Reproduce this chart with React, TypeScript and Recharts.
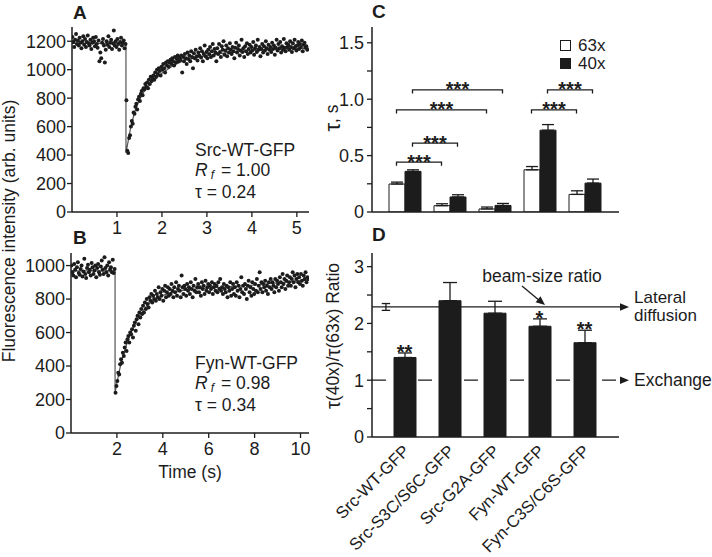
import React from 'react';
import {
  ComposedChart,
  Scatter,
  Line,
  Bar,
  XAxis,
  YAxis,
  ErrorBar,
  ReferenceLine,
  Legend,
} from 'recharts';

const FONT = '"Liberation Sans", Arial, Helvetica, sans-serif';
const INK = '#1c1c1c';

// ---------------- Panel A : Src-WT-GFP FRAP trace ----------------
const srcName = 'Src-WT-GFP';
const srcRf = 1.0;
const srcTau = 0.24;
const srcTimeStart = 0.01;
const srcTimeStep = 0.02;
const srcIntensity = [
  1230, 1195, 1160, 1210, 1250, 1180, 1205, 1170, 1225, 1190,
  1150, 1200, 1235, 1175, 1215, 1160, 1195, 1240, 1185, 1170,
  1210, 1145, 1190, 1225, 1200, 1165, 1230, 1180, 1155, 1205,
  1060, 1120, 1080, 1190, 1215, 1170, 1050, 1140, 1200, 1175,
  1235, 1160, 1190, 1210, 1145, 1185, 1275, 1170, 1200, 1160,
  1215, 1180, 1140, 1195, 1225, 1170, 1190, 1205, 1150, 1180,
  785, 430, 415, 520, 540, 600, 640, 620, 700, 690,
  740, 760, 720, 790, 810, 780, 830, 850, 820, 870,
  860, 900, 880, 910, 870, 930, 900, 950, 920, 940,
  960, 930, 980, 950, 1000, 970, 1010, 990, 960, 1020,
  1000, 1040, 1010, 980, 1050, 1030, 1060, 1020, 1050, 1070,
  1040, 1080, 1060, 1030, 1090, 1050, 1075, 1100, 1060, 1085,
  1070, 1100, 980, 1090, 1060, 1110, 1080, 1040, 1120, 1075,
  1100, 1060, 1130, 1090, 1010, 1115, 1080, 1140, 1095, 1065,
  1120, 1100, 1150, 1085, 1130, 1060, 1110, 1170, 1095, 1125,
  1080, 1140, 1110, 1160, 1090, 1130, 1180, 1100, 1145, 1120,
  1060, 1150, 1110, 1180, 1125, 1090, 1165, 1140, 1200, 1105,
  1135, 1170, 1095, 1150, 1120, 1185, 1140, 1110, 1160, 1130,
  1080, 1155, 1190, 1120, 1145, 1170, 1100, 1135, 1210, 1125,
  1150, 1090, 1165, 1130, 1185, 1110, 1145, 1175, 1120, 1160,
  1135, 1195, 1105, 1150, 1170, 1125, 1210, 1140, 1160, 1095,
  1145, 1180, 1120, 1165, 1135, 1200, 1150, 1110, 1175, 1140,
  1160, 1125, 1190, 1145, 1170, 1105, 1155, 1210, 1135, 1180,
  1150, 1195, 1120, 1165, 1140, 1215, 1155, 1130, 1185, 1160,
  1175, 1140, 1200, 1160, 1125, 1185, 1150, 1210, 1165, 1135,
  1170, 1195, 1145, 1180, 1160, 1205, 1130, 1175, 1190, 1155,
  1165, 1140,
];
const srcFitTime = [0, 1.2, 1.2, 1.25, 1.3, 1.35, 1.4, 1.5, 1.6, 1.75, 2.0, 2.25, 2.5, 3.0, 3.5, 4.0, 4.5, 5.27];
const srcFitIntensity = [1185, 1185, 415, 500, 585, 650, 710, 790, 845, 905, 975, 1030, 1065, 1100, 1122, 1135, 1143, 1152];
const srcTimeTicks = [1, 2, 3, 4, 5];
const srcIntensityTicks = [0, 200, 400, 600, 800, 1000, 1200];

// ---------------- Panel B : Fyn-WT-GFP FRAP trace ----------------
const fynName = 'Fyn-WT-GFP';
const fynRf = 0.98;
const fynTau = 0.34;
const fynTimeStart = 0.02;
const fynTimeStep = 0.04;
const fynIntensity = [
  1000, 960, 940, 1010, 975, 930, 990, 1020, 955, 945,
  980, 1000, 935, 965, 1040, 950, 925, 985, 1005, 960,
  975, 940, 1015, 990, 950, 970, 1000, 930, 985, 1010,
  960, 945, 995, 1030, 975, 950, 1050, 985, 960, 1000,
  940, 1020, 975, 990, 960, 1035, 955, 980,
  240, 280, 310, 360, 350, 410, 440, 420, 480, 460,
  510, 540, 490, 560, 580, 540, 600, 590, 620, 570,
  640, 660, 610, 680, 700, 650, 720, 690, 740, 710,
  760, 720, 780, 740, 800, 770, 750, 810, 790, 830,
  780, 820, 800, 850, 790, 830, 810, 870, 800, 840,
  820, 860, 790, 850, 880, 810, 840, 870, 820, 860,
  830, 890, 850, 810, 870, 840, 900, 820, 860, 880,
  850, 810, 940, 870, 830, 880, 860, 820, 890, 850,
  870, 830, 900, 860, 810, 880, 850, 920, 840, 870,
  890, 840, 870, 820, 900, 860, 880, 830, 910, 850,
  870, 890, 840, 880, 860, 900, 830, 870, 890, 850,
  880, 840, 900, 860, 920, 850, 870, 830, 890, 860,
  840, 880, 810, 870, 850, 900, 820, 860, 890, 830,
  870, 820, 900, 850, 880, 810, 860, 930, 840, 880,
  830, 890, 860, 800, 880, 910, 840, 870, 820, 900,
  860, 830, 890, 850, 920, 840, 880, 960, 860, 900,
  840, 890, 870, 910, 850, 880, 830, 900, 870, 920,
  860, 900, 880, 840, 920, 870, 910, 890, 850, 930,
  900, 870, 950, 890, 920, 860, 910, 940, 880, 900,
  930, 880, 920, 960, 900, 940, 870, 920, 950, 900,
  930, 890, 950, 910, 880, 940, 920, 960, 900, 930, 920,
];
const fynFitTime = [0, 1.92, 1.92, 2.0, 2.2, 2.4, 2.6, 2.8, 3.0, 3.3, 3.6, 4.0, 4.5, 5, 6, 7, 8, 9, 10.37];
const fynFitIntensity = [968, 968, 240, 300, 430, 520, 595, 655, 705, 760, 795, 822, 843, 855, 866, 874, 884, 897, 915];
const fynTimeTicks = [2, 4, 6, 8, 10];
const fynIntensityTicks = [0, 200, 400, 600, 800, 1000];

// ---------------- Panel C : recovery time constants ----------------
const constructs = ['Src-WT-GFP', 'Src-S3C/S6C-GFP', 'Src-G2A-GFP', 'Fyn-WT-GFP', 'Fyn-C3S/C6S-GFP'];
const tau63 = [0.248, 0.056, 0.027, 0.374, 0.156];
const tau63Err = [0.017, 0.017, 0.017, 0.029, 0.032];
const tau40 = [0.36, 0.133, 0.058, 0.725, 0.256];
const tau40Err = [0.014, 0.02, 0.018, 0.05, 0.036];
const tauTicks = [0, 0.25, 0.5, 0.75, 1, 1.25, 1.5];
const comparisons = [
  { from: 0, to: 1, series: '63x', y: 0.442, mark: '***' },
  { from: 0, to: 1, series: '40x', y: 0.61, mark: '***' },
  { from: 0, to: 2, series: '63x', y: 0.905, mark: '***' },
  { from: 0, to: 2, series: '40x', y: 1.082, mark: '***' },
  { from: 3, to: 4, series: '63x', y: 0.905, mark: '***' },
  { from: 3, to: 4, series: '40x', y: 1.082, mark: '***' },
];

// ---------------- Panel D : tau ratio ----------------
const ratio = [1.4, 2.4, 2.18, 1.95, 1.66];
const ratioErr = [0.08, 0.32, 0.21, 0.13, 0.22];
const ratioSig = ['**', '', '', '*', '**'];
const beamRatio = 2.29;
const beamRatioErr = 0.06;
const exchangeRatio = 1;
const ratioTicks = [0, 0.5, 1, 1.5, 2, 2.5, 3];

// ---------------- layout constants ----------------
const BAR_PAD = { left: 10, right: 12 };
const C_BAR = 16;
const D_BAR = 22;

const axisLine = { stroke: INK, strokeWidth: 1.5 };
const tickLine = { stroke: INK, strokeWidth: 1.3 };
const tickStyle = { fill: INK, fontSize: 18, fontFamily: FONT };

const Dot = (p: any) => <circle cx={p.cx} cy={p.cy} r={2} fill={INK} />;

function RecoveryPanel(props: any) {
  const { start, step, values, fitTime, fitValues, xDomain, yDomain, xTicks, yTicks, width, height, margin, yAxisWidth, xAxisHeight, xLabel } = props;
  const points = values.map((v: number, i: number) => ({ t: +(start + i * step).toFixed(3), v }));
  const fit = fitTime.map((t: number, i: number) => ({ t, v: fitValues[i] }));
  return (
    <ComposedChart width={width} height={height} margin={margin}>
      <XAxis
        xAxisId="b"
        dataKey="t"
        type="number"
        domain={xDomain}
        ticks={xTicks}
        allowDataOverflow
        interval={0}
        axisLine={axisLine}
        tickLine={tickLine}
        tickSize={5}
        tickMargin={4}
        tick={tickStyle}
        height={xAxisHeight}
        label={xLabel ? { value: xLabel, position: 'insideBottom', offset: 6, fill: INK, fontSize: 17.5, fontFamily: FONT } : undefined}
      />
      <XAxis xAxisId="t" orientation="top" type="number" domain={xDomain} allowDataOverflow tick={false} tickLine={false} axisLine={axisLine} height={0} />
      <YAxis
        yAxisId="l"
        dataKey="v"
        type="number"
        domain={yDomain}
        ticks={yTicks}
        allowDataOverflow
        interval={0}
        axisLine={axisLine}
        tickLine={tickLine}
        tickSize={5}
        tickMargin={1}
        tick={tickStyle}
        width={yAxisWidth}
      />
      <YAxis yAxisId="r" orientation="right" type="number" domain={[0, 1]} tick={false} tickLine={false} axisLine={axisLine} width={0} />
      <Line xAxisId="b" yAxisId="l" data={fit} dataKey="v" type="linear" stroke="#555" strokeWidth={1.2} dot={false} activeDot={false} isAnimationActive={false} />
      <Scatter xAxisId="b" yAxisId="l" data={points} dataKey="v" shape={Dot} isAnimationActive={false} />
    </ComposedChart>
  );
}

function FitText({ x, y, name, rf, tau }: any) {
  return (
    <g fill={INK} fontFamily={FONT} fontSize={17.5}>
      <text x={x} y={y}>{name}</text>
      <text x={x} y={y + 20}>
        <tspan fontStyle="italic">R</tspan>
        <tspan fontStyle="italic" fontSize={12} dx={3} dy={3}>f</tspan>
        <tspan dx={7} dy={-3}>{'= ' + rf.toFixed(2)}</tspan>
      </text>
      <text x={x} y={y + 42}>{'τ = ' + tau.toFixed(2)}</text>
    </g>
  );
}

const BracketShape = (off: number, mark: string) => (p: any) => {
  const xa = p.x1 + off;
  const xb = p.x2 + off;
  const y = p.y1;
  return (
    <g>
      <path d={`M${xa},${y + 3.5}V${y}H${xb}V${y + 3.5}`} fill="none" stroke={INK} strokeWidth={1.3} />
      <text x={(xa + xb) / 2} y={y + 6.5} textAnchor="middle" fill={INK} fontSize={20} fontWeight="bold" fontFamily={FONT}>
        {mark}
      </text>
    </g>
  );
};

function LegendC() {
  const row = { display: 'flex', alignItems: 'center', height: 18 } as React.CSSProperties;
  const box = { width: 9, height: 9, border: `1px solid ${INK}`, marginRight: 7 } as React.CSSProperties;
  return (
    <div style={{ fontFamily: FONT, fontSize: 17, color: INK, lineHeight: '17px' }}>
      <div style={row}><span style={{ ...box, background: '#fff' }} />63x</div>
      <div style={row}><span style={{ ...box, background: INK }} />40x</div>
    </div>
  );
}

function TauPanel() {
  const data = constructs.map((name, i) => ({
    name,
    t63: tau63[i],
    e63: [0, tau63Err[i]],
    t40: tau40[i],
    e40: [0, tau40Err[i]],
  }));
  const half = C_BAR / 2;
  return (
    <ComposedChart width={320} height={230} data={data} margin={{ top: 27, right: 21, bottom: 0, left: 0 }} barGap={0}>
      <XAxis xAxisId="cat" dataKey="name" type="category" padding={BAR_PAD} tick={false} tickLine={false} axisLine={axisLine} height={18} />
      <XAxis xAxisId="top" orientation="top" dataKey="name" tick={false} tickLine={false} axisLine={axisLine} height={0} />
      <YAxis
        yAxisId="l"
        type="number"
        domain={[0, 1.64]}
        ticks={tauTicks}
        allowDataOverflow
        interval={0}
        axisLine={axisLine}
        tickLine={tickLine}
        tickSize={5}
        tickMargin={3}
        tick={tickStyle}
        width={52}
        tickFormatter={(v: number) => (v === 0 ? '0' : Math.abs(v * 2 - Math.round(v * 2)) < 1e-9 ? v.toFixed(1) : '')}
      />
      <YAxis yAxisId="r" orientation="right" type="number" domain={[0, 1]} tick={false} tickLine={false} axisLine={axisLine} width={0} />
      <Legend layout="vertical" align="center" verticalAlign="middle" wrapperStyle={{ top: 36, left: 240, width: 60 }} content={() => <LegendC />} />
      {comparisons.map((c, k) => (
        <ReferenceLine
          key={`br${k}`}
          xAxisId="cat"
          yAxisId="l"
          ifOverflow="visible"
          segment={[{ x: constructs[c.from], y: c.y }, { x: constructs[c.to], y: c.y }]}
          shape={BracketShape(c.series === '63x' ? -half : half, c.mark)}
        />
      ))}
      <Bar xAxisId="cat" yAxisId="l" dataKey="t63" barSize={C_BAR} fill="#fff" stroke={INK} strokeWidth={1} isAnimationActive={false}>
        <ErrorBar dataKey="e63" width={6} stroke={INK} strokeWidth={1.3} direction="y" />
      </Bar>
      <Bar xAxisId="cat" yAxisId="l" dataKey="t40" barSize={C_BAR} fill={INK} stroke={INK} strokeWidth={1} isAnimationActive={false}>
        <ErrorBar dataKey="e40" width={6} stroke={INK} strokeWidth={1.3} direction="y" />
      </Bar>
    </ComposedChart>
  );
}

function arrowHead(x1: number, y1: number, x2: number, y2: number, len = 9, hw = 3.8) {
  const dx = x2 - x1;
  const dy = y2 - y1;
  const d = Math.sqrt(dx * dx + dy * dy);
  const ux = dx / d;
  const uy = dy / d;
  const bx = x2 - ux * len;
  const by = y2 - uy * len;
  return `${x2},${y2} ${bx - uy * hw},${by + ux * hw} ${bx + uy * hw},${by - ux * hw}`;
}

const LateralLabel = (p: any) => {
  const vb = p.viewBox || p;
  const xr = vb.x + vb.width;
  const y = vb.y;
  const ax1 = vb.x + 150;
  const ay1 = y - 21;
  const ax2 = vb.x + 173;
  const ay2 = y - 2;
  return (
    <g>
      <line x1={xr} y1={y} x2={xr + 3} y2={y} stroke={INK} strokeWidth={1.3} />
      <polygon points={arrowHead(xr, y, xr + 10, y)} fill={INK} />
      <text x={xr + 15} y={y - 4} fill={INK} fontSize={17} fontFamily={FONT}>Lateral</text>
      <text x={xr + 15} y={y + 14} fill={INK} fontSize={17} fontFamily={FONT}>diffusion</text>
      <text x={vb.x + 170} y={y - 25} textAnchor="middle" fill={INK} fontSize={17.5} fontFamily={FONT}>beam-size ratio</text>
      <line x1={ax1} y1={ay1} x2={ax2 - 5} y2={ay2 - 4} stroke={INK} strokeWidth={1.3} />
      <polygon points={arrowHead(ax1, ay1, ax2, ay2)} fill={INK} />
    </g>
  );
};

const ExchangeLabel = (p: any) => {
  const vb = p.viewBox || p;
  const xr = vb.x + vb.width;
  const y = vb.y;
  return (
    <g>
      <polygon points={arrowHead(xr, y, xr + 10, y)} fill={INK} />
      <text x={xr + 15} y={y + 6} fill={INK} fontSize={17.5} fontFamily={FONT}>Exchange</text>
    </g>
  );
};

const RotatedTick = (p: any) => {
  const ax = p.x + 6;
  const ay = p.y + 15;
  return (
    <text x={ax} y={ay} textAnchor="end" transform={`rotate(-45 ${ax} ${ay})`} fill={INK} fontSize={16.8} fontFamily={FONT}>
      {p.payload.value}
    </text>
  );
};

const SigMark = (p: any) => (
  <g key={`sig-${p.index}`}>
    {p.payload && p.payload.sig ? (
      <text x={p.cx} y={p.cy + 6} textAnchor="middle" fill={INK} fontSize={20} fontWeight="bold" fontFamily={FONT}>
        {p.payload.sig}
      </text>
    ) : null}
  </g>
);

function RatioPanel() {
  const data = constructs.map((name, i) => ({
    name,
    r: ratio[i],
    e: [0, ratioErr[i]],
    top: ratio[i] + ratioErr[i],
    sig: ratioSig[i],
  }));
  const bx = 0.07;
  const cap = 0.075;
  return (
    <ComposedChart width={392} height={327} data={data} margin={{ top: 23, right: 93, bottom: 0, left: 0 }} barGap={0}>
      <XAxis xAxisId="cat" dataKey="name" type="category" padding={BAR_PAD} interval={0} tickLine={false} tickSize={0} tickMargin={0} tick={RotatedTick} axisLine={axisLine} height={120} />
      <XAxis xAxisId="num" type="number" domain={[0, constructs.length]} padding={BAR_PAD} allowDataOverflow hide />
      <XAxis xAxisId="top" orientation="top" dataKey="name" tick={false} tickLine={false} axisLine={axisLine} height={0} />
      <YAxis
        yAxisId="l"
        type="number"
        domain={[0, 3.24]}
        ticks={ratioTicks}
        allowDataOverflow
        interval={0}
        axisLine={axisLine}
        tickLine={tickLine}
        tickSize={5}
        tickMargin={3}
        tick={tickStyle}
        width={52}
        tickFormatter={(v: number) => (Number.isInteger(v) ? String(v) : '')}
      />
      <YAxis yAxisId="r" orientation="right" type="number" domain={[0, 1]} tick={false} tickLine={false} axisLine={axisLine} width={0} />
      <ReferenceLine xAxisId="num" yAxisId="l" y={exchangeRatio} stroke={INK} strokeWidth={1.3} strokeDasharray="14 9" ifOverflow="visible" label={ExchangeLabel} />
      <ReferenceLine xAxisId="num" yAxisId="l" y={beamRatio} stroke={INK} strokeWidth={1.3} ifOverflow="visible" label={LateralLabel} />
      <ReferenceLine xAxisId="num" yAxisId="l" ifOverflow="visible" segment={[{ x: bx, y: beamRatio - beamRatioErr }, { x: bx, y: beamRatio + beamRatioErr }]} stroke={INK} strokeWidth={1.3} />
      <ReferenceLine xAxisId="num" yAxisId="l" ifOverflow="visible" segment={[{ x: bx - cap, y: beamRatio + beamRatioErr }, { x: bx + cap, y: beamRatio + beamRatioErr }]} stroke={INK} strokeWidth={1.3} />
      <ReferenceLine xAxisId="num" yAxisId="l" ifOverflow="visible" segment={[{ x: bx - cap, y: beamRatio - beamRatioErr }, { x: bx + cap, y: beamRatio - beamRatioErr }]} stroke={INK} strokeWidth={1.3} />
      <Bar xAxisId="cat" yAxisId="l" dataKey="r" barSize={D_BAR} fill={INK} stroke={INK} strokeWidth={1} isAnimationActive={false}>
        <ErrorBar dataKey="e" width={7} stroke={INK} strokeWidth={1.3} direction="y" />
      </Bar>
      <Line xAxisId="cat" yAxisId="l" dataKey="top" stroke="none" dot={SigMark} activeDot={false} isAnimationActive={false} legendType="none" />
    </ComposedChart>
  );
}

export default function App() {
  return (
    <div style={{ position: 'absolute', left: 0, top: 0, width: 712, height: 557, background: '#fff', overflow: 'hidden', fontFamily: FONT }}>
      <div style={{ position: 'absolute', left: 0, top: 0 }}>
        <RecoveryPanel
          start={srcTimeStart}
          step={srcTimeStep}
          values={srcIntensity}
          fitTime={srcFitTime}
          fitValues={srcFitIntensity}
          xDomain={[0, 5.27]}
          yDomain={[0, 1300]}
          xTicks={srcTimeTicks}
          yTicks={srcIntensityTicks}
          width={320}
          height={245}
          margin={{ top: 27, right: 11, bottom: 0, left: 0 }}
          yAxisWidth={72}
          xAxisHeight={33}
        />
      </div>
      <div style={{ position: 'absolute', left: 0, top: 230 }}>
        <RecoveryPanel
          start={fynTimeStart}
          step={fynTimeStep}
          values={fynIntensity}
          fitTime={fynFitTime}
          fitValues={fynFitIntensity}
          xDomain={[0, 10.37]}
          yDomain={[0, 1075]}
          xTicks={fynTimeTicks}
          yTicks={fynIntensityTicks}
          width={320}
          height={254}
          margin={{ top: 23, right: 11, bottom: 0, left: 0 }}
          yAxisWidth={71}
          xAxisHeight={51}
          xLabel="Time (s)"
        />
      </div>
      <div style={{ position: 'absolute', left: 320, top: 0 }}>
        <TauPanel />
      </div>
      <div style={{ position: 'absolute', left: 320, top: 230 }}>
        <RatioPanel />
      </div>
      <svg width={712} height={557} style={{ position: 'absolute', left: 0, top: 0, pointerEvents: 'none' }}>
        <g fill={INK} fontFamily={FONT} fontWeight="bold" fontSize={19}>
          <text x={73} y={19}>A</text>
          <text x={73} y={244}>B</text>
          <text x={372} y={18}>C</text>
          <text x={372} y={241}>D</text>
        </g>
        <FitText x={195} y={156} name={srcName} rf={srcRf} tau={srcTau} />
        <FitText x={195} y={369} name={fynName} rf={fynRf} tau={fynTau} />
        <g fill={INK} fontFamily={FONT} fontSize={17.5}>
          <text x={9} y={231} textAnchor="middle" dominantBaseline="central" transform="rotate(-90 9 231)">
            Fluorescence intensity (arb. units)
          </text>
          <text x={332} y={118} textAnchor="middle" dominantBaseline="central" transform="rotate(-90 332 118)">
            <tspan fontSize={22}>τ</tspan>, s
          </text>
          <text x={333} y={336} textAnchor="middle" dominantBaseline="central" transform="rotate(-90 333 336)">
            <tspan fontSize={20}>τ</tspan>(40x)/<tspan fontSize={20}>τ</tspan>(63x) Ratio
          </text>
        </g>
      </svg>
    </div>
  );
}
